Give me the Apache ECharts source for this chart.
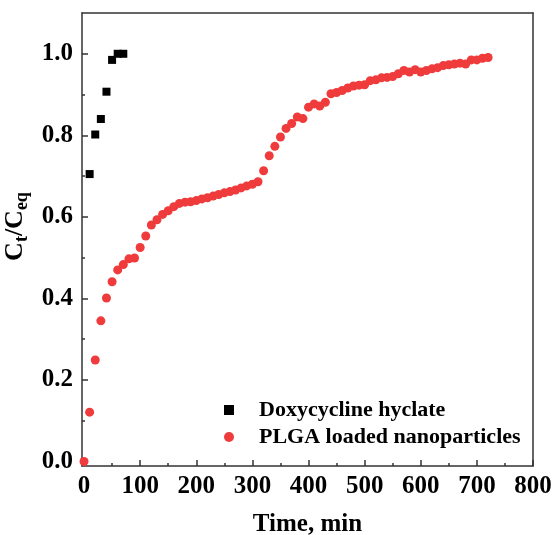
<!DOCTYPE html>
<html>
<head>
<meta charset="utf-8">
<script src="https://cdn.jsdelivr.net/npm/echarts@6/dist/echarts.min.js"></script>
<style>
  html, body { margin: 0; padding: 0; background: #fff; }
  #chart { width: 556px; height: 535px; }
</style>
</head>
<body>
<div id="chart"></div>
<script>
// Doxycycline hyclate (black squares)
var doxyTime = [10, 20, 30, 40, 50, 60, 70]
var doxyValue = [0.705, 0.802, 0.84, 0.907, 0.985, 1.0, 1.0]

// PLGA loaded nanoparticles (red circles), every 10 min
var plgaTime = [0, 10, 20, 30, 40, 50, 60, 70, 80, 90,
  100, 110, 120, 130, 140, 150, 160, 170, 180, 190,
  200, 210, 220, 230, 240, 250, 260, 270, 280, 290,
  300, 310, 320, 330, 340, 350, 360, 370, 380, 390,
  400, 410, 420, 430, 440, 450, 460, 470, 480, 490,
  500, 510, 520, 530, 540, 550, 560, 570, 580, 590,
  600, 610, 620, 630, 640, 650, 660, 670, 680, 690,
  700, 710, 720]
var plgaValue = [0.0, 0.121, 0.249, 0.345, 0.401, 0.441, 0.47, 0.483, 0.497, 0.499,
  0.525, 0.553, 0.58, 0.593, 0.606, 0.615, 0.625, 0.633, 0.636, 0.637,
  0.64, 0.644, 0.647, 0.651, 0.655, 0.659, 0.662, 0.666, 0.671, 0.676,
  0.68, 0.686, 0.713, 0.75, 0.773, 0.796, 0.817, 0.829, 0.845, 0.841,
  0.869, 0.877, 0.872, 0.881, 0.902, 0.905, 0.91, 0.916, 0.921, 0.923,
  0.924, 0.934, 0.936, 0.941, 0.942, 0.944, 0.951, 0.959, 0.955, 0.961,
  0.955, 0.959, 0.963, 0.966, 0.971, 0.973, 0.975, 0.977, 0.975, 0.985,
  0.985, 0.989, 0.991]

// tick positions
var xMajor = [0, 100, 200, 300, 400, 500, 600, 700, 800]
var xMinor = [50, 150, 250, 350, 450, 550, 650, 750]
var yMajor = [0, 0.2, 0.4, 0.6, 0.8, 1.0]
var yMinor = [0.1, 0.3, 0.5, 0.7, 0.9]

var xMin = -3.6, xMax = 800
var yMin = -0.011, yMax = 1.1

var font = 'Liberation Serif'
var lineColor = '#333'

var pairs = function (xs, ys) {
  return xs.map(function (x, i) { return [x, ys[i]] })
}

var chart = echarts.init(document.getElementById('chart'))
var gridBox = { left: 82, right: 23, top: 13, bottom: 69, containLabel: false, outerBoundsMode: 'none' }

var line = { show: true, onZero: false, lineStyle: { color: lineColor, width: 1.5 } }
var noLine = { show: false, onZero: false }

var option = {
  animation: false,
  grid: [
    Object.assign({}, gridBox),
    Object.assign({}, gridBox)
  ],
  legend: {
    orient: 'vertical',
    left: 219,
    top: 394,
    itemWidth: 10,
    itemHeight: 10,
    itemGap: 5,
    textStyle: {
      fontFamily: font,
      fontWeight: 'bold',
      fontSize: 22,
      color: '#000',
      padding: [0, 0, 0, 20]
    },
    data: ['Doxycycline hyclate', 'PLGA loaded nanoparticles']
  },
  xAxis: [
    {
      type: 'value',
      gridIndex: 0,
      position: 'bottom',
      min: xMin,
      max: xMax,
      name: 'Time, min',
      nameLocation: 'middle',
      nameGap: 46,
      nameTextStyle: { fontFamily: font, fontWeight: 'bold', fontSize: 25, color: '#000' },
      axisLine: line,
      axisTick: { show: true, inside: true, length: 6, customValues: xMajor, lineStyle: { color: lineColor, width: 1.5 } },
      axisLabel: { customValues: xMajor, margin: 8, fontFamily: font, fontWeight: 'bold', fontSize: 25, color: '#000' },
      splitLine: { show: false }
    },
    {
      type: 'value',
      gridIndex: 0,
      position: 'top',
      min: xMin,
      max: xMax,
      axisLine: line,
      axisTick: { show: false },
      axisLabel: { show: false },
      splitLine: { show: false }
    },
    {
      type: 'value',
      gridIndex: 1,
      position: 'bottom',
      min: xMin,
      max: xMax,
      axisLine: noLine,
      axisTick: { show: true, inside: true, length: 3, customValues: xMinor, lineStyle: { color: lineColor, width: 1.5 } },
      axisLabel: { show: false },
      splitLine: { show: false }
    }
  ],
  yAxis: [
    {
      type: 'value',
      gridIndex: 0,
      position: 'left',
      min: yMin,
      max: yMax,
      name: '{c|C}{s|t}{c|/C}{s|eq}',
      nameLocation: 'middle',
      nameRotate: 90,
      nameGap: 46,
      nameTextStyle: {
        padding: [0, 0, 0, 26],
        rich: {
          c: { fontFamily: font, fontWeight: 'bold', fontSize: 26, color: '#000' },
          s: { fontFamily: font, fontWeight: 'bold', fontSize: 18, color: '#000', padding: [13, 0, 0, 0] }
        }
      },
      axisLine: line,
      axisTick: { show: true, inside: true, length: 6, customValues: yMajor, lineStyle: { color: lineColor, width: 1.5 } },
      axisLabel: {
        customValues: yMajor,
        margin: 9,
        fontFamily: font,
        fontWeight: 'bold',
        fontSize: 25,
        color: '#000',
        formatter: function (v) { return v.toFixed(1) }
      },
      splitLine: { show: false }
    },
    {
      type: 'value',
      gridIndex: 0,
      position: 'right',
      min: yMin,
      max: yMax,
      axisLine: line,
      axisTick: { show: false },
      axisLabel: { show: false },
      splitLine: { show: false }
    },
    {
      type: 'value',
      gridIndex: 1,
      position: 'left',
      min: yMin,
      max: yMax,
      axisLine: noLine,
      axisTick: { show: true, inside: true, length: 3, customValues: yMinor, lineStyle: { color: lineColor, width: 1.5 } },
      axisLabel: { show: false },
      splitLine: { show: false }
    }
  ],
  series: [
    {
      name: 'Doxycycline hyclate',
      type: 'scatter',
      xAxisIndex: 0,
      yAxisIndex: 0,
      symbol: 'rect',
      symbolSize: 8,
      itemStyle: { color: '#000', opacity: 1 },
      data: pairs(doxyTime, doxyValue)
    },
    {
      name: 'PLGA loaded nanoparticles',
      type: 'scatter',
      xAxisIndex: 0,
      yAxisIndex: 0,
      symbol: 'circle',
      symbolSize: 9,
      itemStyle: { color: '#ef3b3b', opacity: 1 },
      data: pairs(plgaTime, plgaValue)
    }
  ]
}

chart.setOption(option)
</script>
</body>
</html>
